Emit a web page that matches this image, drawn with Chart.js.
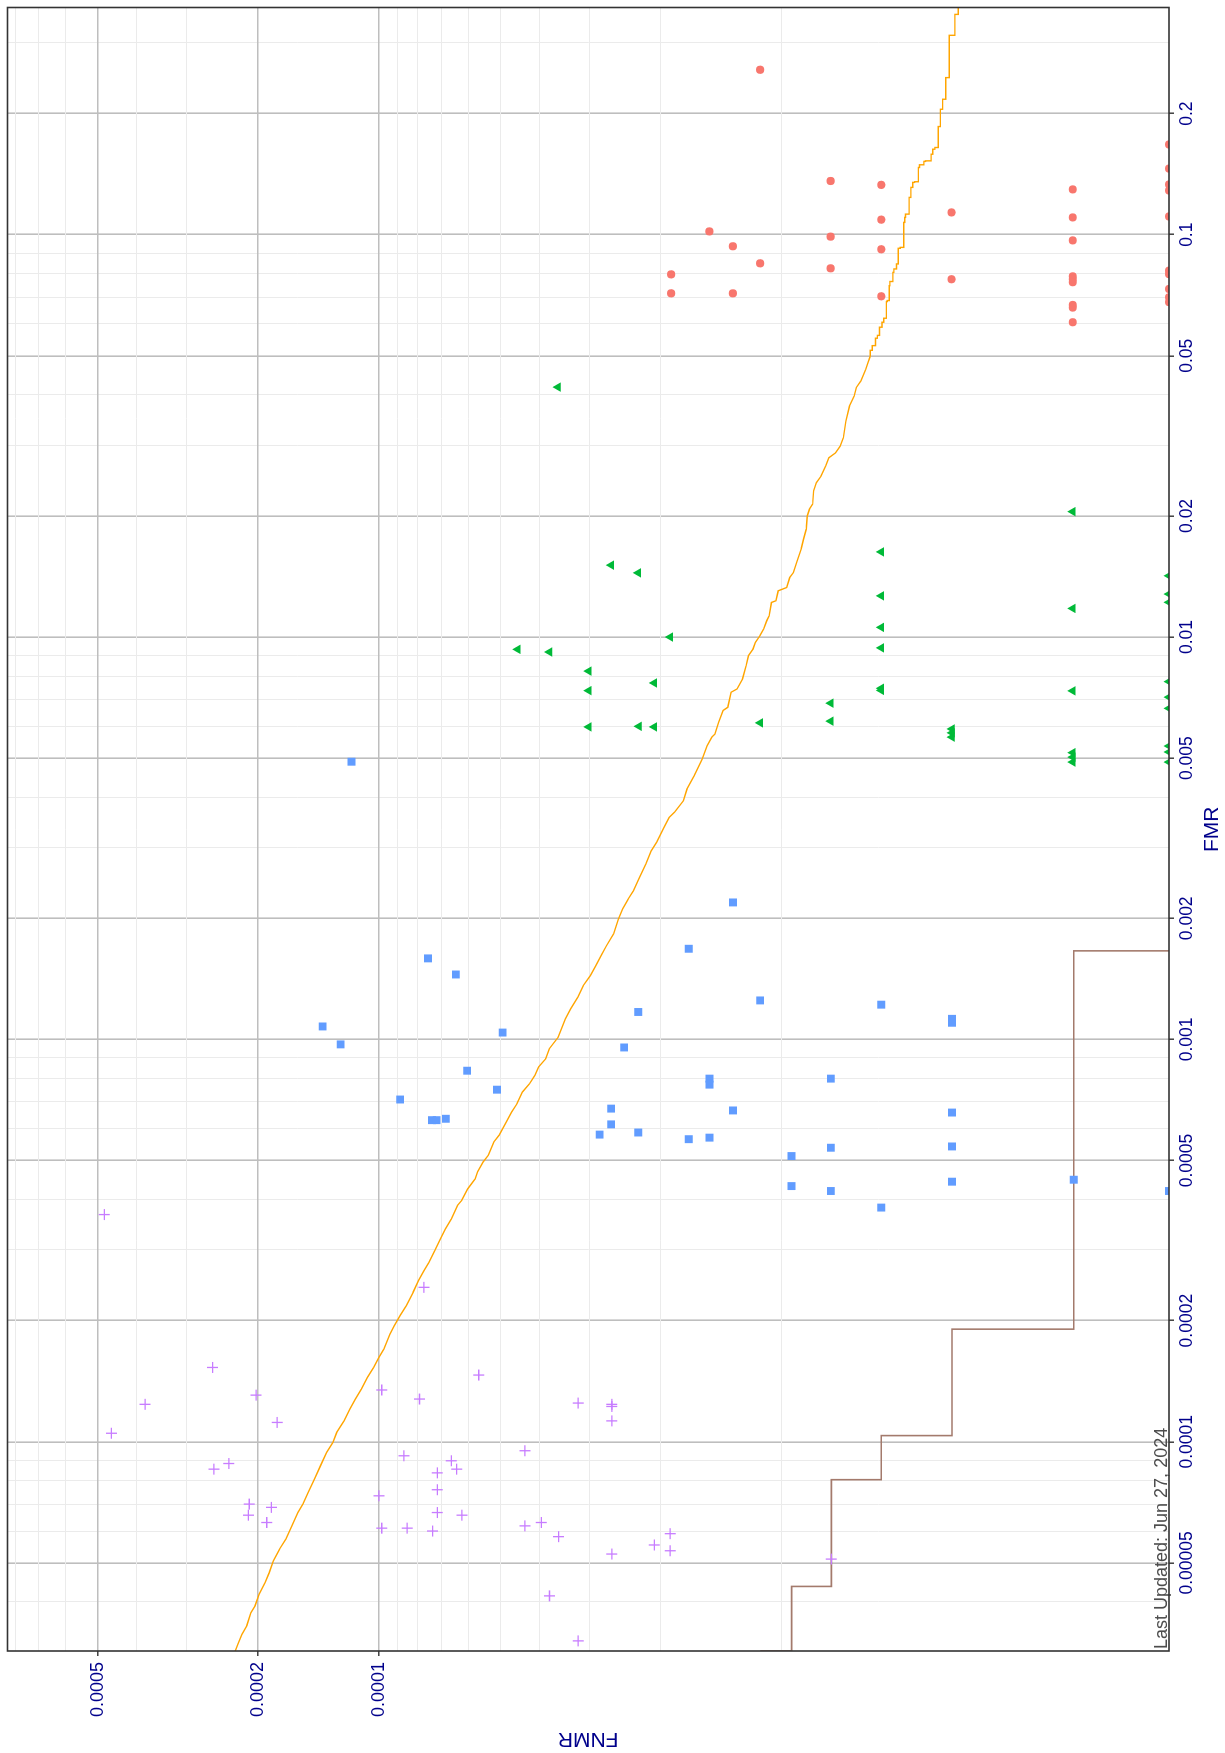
<!DOCTYPE html>
<html>
<head>
<meta charset="utf-8">
<title>FNMR vs FMR</title>
<script src="https://cdn.jsdelivr.net/npm/chart.js@4.4.1/dist/chart.umd.min.js"></script>
<style>
  html, body { margin: 0; padding: 0; background: #fff; overflow: hidden; }
  /* the chart is drawn upright (FMR across) and turned a quarter left */
  #wrap { position: absolute; left: 0; top: 0; width: 1753px; height: 1225px;
          transform-origin: 0 0; transform: translateY(1753px) rotate(-90deg); }
</style>
</head>
<body>
<div id="wrap"><canvas id="det" width="1753" height="1225"></canvas></div>
<script>
// axis ranges and labelled breaks
const FMR_MIN = 3.02e-5, FMR_MAX = 0.367;
const FNMR_MIN = 1.09e-6, FNMR_MAX = 8.37e-4;
const fmrTicks = [0.00005, 0.0001, 0.0002, 0.0005, 0.001, 0.002, 0.005, 0.01, 0.02, 0.05, 0.1, 0.2];
const fnmrTicks = [0.0001, 0.0002, 0.0005];
const caption = 'Last Updated: Jun 27, 2024';

// points (FMR, FNMR); FNMR 0 is drawn on the panel edge
const circleFmr = [0.257, 0.136, 0.133, 0.1296, 0.1136, 0.109, 0.1104, 0.1019, 0.0989, 0.0968,
  0.0936, 0.092, 0.0849, 0.0825, 0.0797, 0.0775, 0.0788, 0.0775, 0.0762, 0.0715,
  0.0715, 0.0703, 0.0669, 0.0659, 0.0606,
  0.1676, 0.146, 0.1333, 0.1288, 0.111, 0.0814, 0.0798, 0.0733, 0.0699, 0.068];
const circleFnmr = [1.13e-5, 7.55e-6, 5.65e-6, 1.89e-6, 3.78e-6, 5.65e-6, 1.89e-6, 1.51e-5, 7.55e-6, 1.89e-6,
  1.32e-5, 5.65e-6, 1.13e-5, 7.55e-6, 1.88e-5, 3.78e-6, 1.89e-6, 1.89e-6, 1.89e-6, 1.88e-5,
  1.32e-5, 5.65e-6, 1.89e-6, 1.89e-6, 1.89e-6,
  0, 0, 0, 0, 0, 0, 0, 0, 0, 0];

const triFmr = [0.0418, 0.0205, 0.01628, 0.01509, 0.01444, 0.01266, 0.01178, 0.01057, 0.0100, 0.00932,
  0.00918, 0.0094, 0.00823, 0.00769, 0.00736, 0.00746, 0.00737, 0.00735, 0.00685, 0.00618,
  0.00612, 0.00598, 0.0060, 0.00598, 0.00591, 0.00578, 0.00564, 0.00516, 0.00503, 0.00489,
  0.0142, 0.01279, 0.0122, 0.00775, 0.00709, 0.00665, 0.00536, 0.00518, 0.00489];
const triFnmr = [3.59e-5, 1.89e-6, 5.65e-6, 2.65e-5, 2.27e-5, 5.65e-6, 1.89e-6, 5.65e-6, 1.89e-5, 4.52e-5,
  3.77e-5, 5.65e-6, 3.01e-5, 2.07e-5, 3.01e-5, 5.65e-6, 5.65e-6, 1.89e-6, 7.55e-6, 7.55e-6,
  1.13e-5, 3.01e-5, 2.26e-5, 2.07e-5, 3.77e-6, 3.77e-6, 3.77e-6, 1.89e-6, 1.89e-6, 1.89e-6,
  0, 0, 0, 0, 0, 0, 0, 0, 0];

const squareFmr = [0.0049, 0.00219, 0.00168, 0.00159, 0.00145, 0.00125, 0.00117, 0.001077, 0.00104, 0.000972,
  0.000955, 0.000836, 0.000799, 0.000772, 0.000799, 0.00075, 0.000709, 0.000673, 0.000666, 0.00063,
  0.00063, 0.000635, 0.000615, 0.00058, 0.000587, 0.000565, 0.00057, 0.000538, 0.000513, 0.000432,
  0.00042, 0.00122, 0.001125, 0.0011, 0.000658, 0.000542, 0.000443, 0.000448, 0.000382, 0.00042];
const squareFnmr = [1.17e-4, 1.32e-5, 1.70e-5, 7.55e-5, 6.44e-5, 1.13e-5, 2.27e-5, 1.38e-4, 4.93e-5, 1.245e-4,
  2.46e-5, 6.04e-5, 1.51e-5, 1.51e-5, 7.54e-6, 5.09e-5, 8.86e-5, 2.65e-5, 1.32e-5, 7.38e-5,
  7.19e-5, 6.82e-5, 2.65e-5, 2.83e-5, 2.27e-5, 1.70e-5, 1.51e-5, 7.54e-6, 9.44e-6, 9.44e-6,
  7.54e-6, 5.65e-6, 3.77e-6, 3.77e-6, 3.77e-6, 3.77e-6, 3.77e-6, 1.88e-6, 5.65e-6, 0];

const crossFmr = [3.67e-4, 2.42e-4, 1.53e-4, 1.465e-4, 1.345e-4, 1.306e-4, 1.277e-4, 1.248e-4, 1.239e-4, 1.224e-4,
  1.239e-4, 1.117e-4, 1.127e-4, 1.05e-4, 9.5e-5, 9.23e-5, 8.97e-5, 8.83e-5, 8.55e-5, 8.55e-5,
  8.37e-5, 7.6e-5, 7.34e-5, 7.0e-5, 6.87e-5, 6.67e-5, 6.57e-5, 6.57e-5, 6.3e-5, 6.18e-5,
  6.3e-5, 6.1e-5, 6.1e-5, 6.0e-5, 5.81e-5, 5.91e-5, 5.54e-5, 5.36e-5, 5.26e-5, 4.14e-5,
  3.2e-5, 5.11e-5];
const crossFnmr = [4.81e-4, 7.73e-5, 2.59e-4, 5.65e-5, 9.84e-5, 2.02e-4, 7.93e-5, 3.2e-5, 2.64e-5, 2.64e-5,
  3.81e-4, 1.79e-4, 2.64e-5, 4.62e-4, 4.34e-5, 8.67e-5, 6.61e-5, 2.36e-4, 2.57e-4, 6.41e-5,
  7.16e-5, 7.16e-5, 1.0e-4, 2.1e-4, 1.85e-4, 7.16e-5, 6.22e-5, 2.11e-4, 1.9e-4, 4.34e-5,
  3.95e-5, 9.84e-5, 8.51e-5, 7.36e-5, 3.58e-5, 1.89e-5, 2.07e-5, 1.89e-5, 2.64e-5, 3.77e-5,
  3.2e-5, 7.52e-6];

// orange DET curve, low FMR to high
const detFmr = [
  3.0e-5, 3.14e-5, 3.32e-5, 3.49e-5, 3.76e-5, 3.91e-5, 4.18e-5, 4.47e-5, 4.73e-5, 5.06e-5,
  5.41e-5, 5.73e-5, 6.18e-5, 6.67e-5, 7.0e-5, 7.48e-5, 8.07e-5, 8.72e-5, 9.41e-5, 9.96e-5,
  1.055e-4, 1.128e-4, 1.206e-4, 1.277e-4, 1.352e-4, 1.445e-4, 1.53e-4, 1.62e-4, 1.70e-4, 1.85e-4,
  1.94e-4, 2.06e-4, 2.18e-4, 2.35e-4, 2.52e-4, 2.66e-4, 2.79e-4, 2.99e-4, 3.22e-4, 3.38e-4,
  3.58e-4, 3.87e-4, 3.98e-4, 4.25e-4, 4.50e-4,
  4.69e-4, 4.96e-4, 5.16e-4, 5.56e-4, 5.78e-4, 6.24e-4, 6.6e-4, 6.92e-4, 7.4e-4, 7.76e-4,
  8.14e-4, 8.54e-4, 8.95e-4, 9.48e-4, 1.013e-3, 1.125e-3, 1.191e-3, 1.274e-3, 1.361e-3, 1.441e-3,
  1.526e-3, 1.616e-3, 1.71e-3, 1.83e-3, 1.99e-3, 2.11e-3, 2.23e-3, 2.34e-3, 2.5e-3, 2.73e-3,
  2.94e-3, 3.09e-3, 3.36e-3, 3.56e-3, 3.67e-3, 3.92e-3, 4.19e-3, 4.52e-3, 4.97e-3,
  5.37e-3, 5.64e-3, 5.74e-3, 6.14e-3, 6.57e-3, 6.69e-3, 7.29e-3, 7.43e-3, 7.87e-3, 8.49e-3,
  8.99e-3, 9.34e-3, 9.7e-3, 0.01008, 0.01047, 0.01098, 0.01129, 0.01219, 0.01231, 0.01303,
  0.01328, 0.01406, 0.01447, 0.01532, 0.0166, 0.0175, 0.01854, 0.02, 0.0208, 0.0214,
  0.0231, 0.0242, 0.0251, 0.0266, 0.0279, 0.0287, 0.0298, 0.0313, 0.0344, 0.0375,
  0.0397, 0.0417, 0.0433, 0.0462, 0.048, 0.0499,
  0.0516, 0.053, 0.0553, 0.0562, 0.0589, 0.0606, 0.062, 0.0682, 0.0686, 0.0747,
  0.0765, 0.0806, 0.0822, 0.0846, 0.0925, 0.093, 0.1073, 0.1104, 0.1125, 0.1238,
  0.1311, 0.1349, 0.1354, 0.1469, 0.1492, 0.1521, 0.1526, 0.1585, 0.1631, 0.1647,
  0.1857, 0.205, 0.2171, 0.2457, 0.313, 0.3528, 0.37];
const detFnmr = [
  2.28e-4, 2.24e-4, 2.19e-4, 2.13e-4, 2.08e-4, 2.032e-4, 1.985e-4, 1.917e-4, 1.873e-4, 1.829e-4,
  1.766e-4, 1.704e-4, 1.646e-4, 1.589e-4, 1.545e-4, 1.499e-4, 1.447e-4, 1.397e-4, 1.349e-4, 1.302e-4,
  1.273e-4, 1.22e-4, 1.181e-4, 1.145e-4, 1.106e-4, 1.068e-4, 1.031e-4, 1.0e-4, 9.72e-5, 9.39e-5,
  9.17e-5, 8.86e-5, 8.55e-5, 8.23e-5, 7.97e-5, 7.73e-5, 7.52e-5, 7.26e-5, 7.01e-5, 6.84e-5,
  6.61e-5, 6.38e-5, 6.23e-5, 6.02e-5, 5.77e-5,
  5.684e-5, 5.511e-5, 5.346e-5, 5.185e-5, 5.028e-5, 4.827e-5, 4.681e-5, 4.54e-5, 4.403e-5, 4.226e-5,
  4.098e-5, 4.015e-5, 3.853e-5, 3.775e-5, 3.587e-5, 3.443e-5, 3.339e-5, 3.205e-5, 3.108e-5, 2.984e-5,
  2.893e-5, 2.805e-5, 2.721e-5, 2.612e-5, 2.543e-5, 2.481e-5, 2.406e-5, 2.333e-5, 2.264e-5, 2.173e-5,
  2.107e-5, 2.043e-5, 1.961e-5, 1.902e-5, 1.844e-5, 1.752e-5, 1.717e-5, 1.648e-5, 1.575e-5,
  1.53e-5, 1.49e-5, 1.463e-5, 1.433e-5, 1.396e-5, 1.36e-5, 1.335e-5, 1.29e-5, 1.25e-5, 1.224e-5,
  1.208e-5, 1.177e-5, 1.161e-5, 1.131e-5, 1.108e-5, 1.088e-5, 1.073e-5, 1.059e-5, 1.032e-5, 1.019e-5,
  9.71e-6, 9.54e-6, 9.34e-6, 9.17e-6, 8.93e-6, 8.82e-6, 8.68e-6, 8.63e-6, 8.52e-6, 8.37e-6,
  8.32e-6, 8.19e-6, 7.98e-6, 7.77e-6, 7.63e-6, 7.34e-6, 7.15e-6, 7.02e-6, 6.92e-6, 6.78e-6,
  6.6e-6, 6.52e-6, 6.35e-6, 6.18e-6, 6.1e-6, 6.02e-6,
  5.95e-6, 5.84e-6, 5.78e-6, 5.71e-6, 5.63e-6, 5.57e-6, 5.49e-6, 5.46e-6, 5.4e-6, 5.38e-6,
  5.29e-6, 5.26e-6, 5.18e-6, 5.13e-6, 5.07e-6, 4.97e-6, 4.94e-6, 4.92e-6, 4.82e-6, 4.77e-6,
  4.72e-6, 4.67e-6, 4.57e-6, 4.54e-6, 4.43e-6, 4.39e-6, 4.25e-6, 4.21e-6, 4.16e-6, 4.08e-6,
  4.03e-6, 3.98e-6, 3.91e-6, 3.83e-6, 3.71e-6, 3.64e-6, 3.64e-6];
const DET_STEP_FROM = 0.0499; // above this the curve is drawn as steps

// brown step line; FMR 0 / FNMR 0 sit on the panel edges
const stepFmr = [0, 0, 4.37e-5, 8.05e-5, 1.036e-4, 1.905e-4, 0.00166];
const stepFnmr = [1.13e-5, 9.44e-6, 7.52e-6, 5.65e-6, 3.77e-6, 1.88e-6, 0];

function pts(fmr, fnmr) {
  return fmr.map(function(f, i) {
    return { x: f === 0 ? FMR_MIN : f, y: fnmr[i] === 0 ? FNMR_MIN : fnmr[i] };
  });
}

// grid: every k*10^n inside the range, majors are the labelled breaks
function gridValues(lo, hi, e0, e1) {
  var out = [];
  for (var e = e0; e <= e1; e++) {
    for (var k = 1; k <= 9; k++) {
      var v = Number((k * Math.pow(10, e)).toPrecision(2));
      if (v > lo && v < hi) out.push(v);
    }
  }
  return out;
}
const fmrGrid = gridValues(FMR_MIN, FMR_MAX, -5, -1);
const fnmrGrid = gridValues(1e-5 * 0.999, FNMR_MAX, -5, -4);

function isMajor(v, list) {
  return list.some(function(m) { return Math.abs(m - v) / m < 1e-6; });
}

function gridOpts(list) {
  return {
    color: function(c) { return c.tick && isMajor(c.tick.value, list) ? 'rgb(190,190,190)' : 'rgb(235,235,235)'; },
    lineWidth: function(c) { return c.tick && isMajor(c.tick.value, list) ? 1.6 : 1; },
    tickColor: function(c) { return c.tick && isMajor(c.tick.value, list) ? '#333333' : 'rgba(0,0,0,0)'; },
    tickWidth: 1.4,
    tickLength: 5
  };
}

const panelFrame = {
  id: 'panelFrame',
  afterDatasetsDraw: function(chart) {
    var ctx = chart.ctx, a = chart.chartArea;
    ctx.save();
    ctx.font = '18px "Liberation Sans", Arial, sans-serif';
    ctx.fillStyle = '#4d4d4d';
    ctx.textAlign = 'left';
    ctx.textBaseline = 'alphabetic';
    ctx.fillText(caption, a.left + 2, a.bottom - 2.5);
    ctx.strokeStyle = '#333333';
    ctx.lineWidth = 1.6;
    ctx.strokeRect(a.left, a.top, a.right - a.left, a.bottom - a.top);
    ctx.restore();
  }
};

Chart.defaults.font.family = '"Liberation Sans", Arial, sans-serif';

var det = pts(detFmr, detFnmr);
var detLow = det.filter(function(p) { return p.x <= DET_STEP_FROM; });
var detHigh = det.filter(function(p) { return p.x >= DET_STEP_FROM; });

new Chart(document.getElementById('det'), {
  type: 'scatter',
  data: {
    datasets: [
      { data: pts(circleFmr, circleFnmr), pointStyle: 'circle', pointRadius: 4.1,
        pointBackgroundColor: '#F8766D', pointBorderWidth: 0, clip: 0 },
      { data: pts(triFmr, triFnmr), pointStyle: 'triangle', pointRadius: 5.5,
        pointBackgroundColor: '#00BA38', pointBorderColor: '#00BA38', pointBorderWidth: 0, clip: 0 },
      { data: pts(squareFmr, squareFnmr), pointStyle: 'rect', pointRadius: 5.6,
        pointBackgroundColor: '#619CFF', pointBorderWidth: 0, clip: 0 },
      { data: pts(crossFmr, crossFnmr), pointStyle: 'cross', pointRadius: 5.5,
        pointBorderColor: '#C77CFF', pointBorderWidth: 1.3, clip: 0 },
      { data: detLow, showLine: true, pointRadius: 0, borderColor: '#FFA500', borderWidth: 1.4, clip: 0 },
      { data: detHigh, showLine: true, stepped: 'before', pointRadius: 0,
        borderColor: '#FFA500', borderWidth: 1.4, clip: 0 },
      { data: pts(stepFmr, stepFnmr), showLine: true, stepped: 'before', pointRadius: 0,
        borderColor: 'rgb(163,122,108)', borderWidth: 1.6, clip: 0 }
    ]
  },
  options: {
    responsive: false,
    animation: false,
    events: [],
    layout: { padding: { left: 0, right: 7.5, top: 7.5, bottom: 0 } },
    plugins: { legend: { display: false }, tooltip: { enabled: false } },
    scales: {
      x: {
        type: 'logarithmic',
        position: 'bottom',
        min: FMR_MIN,
        max: FMR_MAX,
        afterBuildTicks: function(ax) { ax.ticks = fmrGrid.map(function(v) { return { value: v }; }); },
        afterFit: function(ax) { ax.height = 56; ax.paddingLeft = 0; ax.paddingRight = 0; },
        ticks: {
          autoSkip: false, minRotation: 0, maxRotation: 0, padding: 3,
          color: '#00008B', font: { size: 17.5 },
          callback: function(v) { return isMajor(v, fmrTicks) ? String(v) : ''; }
        },
        grid: gridOpts(fmrTicks),
        border: { display: false },
        title: { display: true, text: 'FMR', color: '#00008B', font: { size: 21 }, padding: { top: 0, bottom: 0 } }
      },
      y: {
        type: 'logarithmic',
        position: 'left',
        min: FNMR_MIN,
        max: FNMR_MAX,
        afterBuildTicks: function(ax) { ax.ticks = fnmrGrid.map(function(v) { return { value: v }; }); },
        afterFit: function(ax) { ax.width = 102; ax.paddingTop = 0; ax.paddingBottom = 0; },
        ticks: {
          autoSkip: false, padding: 6,
          color: '#00008B', font: { size: 18 },
          callback: function(v) { return isMajor(v, fnmrTicks) ? String(v) : ''; }
        },
        grid: gridOpts(fnmrTicks),
        border: { display: false },
        title: { display: true, text: 'FNMR', color: '#00008B', font: { size: 21 }, padding: { top: 2, bottom: 0 } }
      }
    }
  },
  plugins: [panelFrame]
});
</script>
</body>
</html>
